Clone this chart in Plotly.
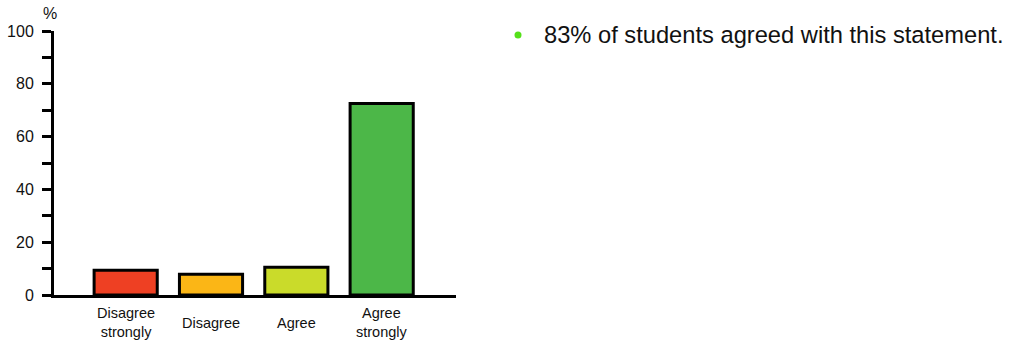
import plotly.graph_objects as go

# Survey responses (% of students)
categories = ["Disagree strongly", "Disagree", "Agree", "Agree strongly"]
tick_labels = ["Disagree<br>strongly", "Disagree", "Agree", "Agree<br>strongly"]
percentages = [9.4, 7.9, 10.5, 72.5]
bar_colors = ["#ee4023", "#fbb616", "#cadb2a", "#4cb748"]
y_tick_values = [0, 20, 40, 60, 80, 100]
summary_text = "83% of students agreed with this statement."

W, H = 1009, 342
ML, MR, MT, MB = 54, 553, 31, 47
PW, PH = W - ML - MR, H - MT - MB
FONT = "Liberation Sans, Arial, sans-serif"


def px_x(x):
    return (x - ML) / PW


def px_y(y):
    return (H - MB - y) / PH


fig = go.Figure()
fig.add_trace(go.Bar(
    x=list(range(len(categories))),
    y=percentages,
    width=0.74,
    marker=dict(color=bar_colors, line=dict(color="black", width=3)),
    hovertext=categories,
    showlegend=False,
))

annotations = []
# Category labels, vertically centred under each bar
for i, label in enumerate(tick_labels):
    annotations.append(dict(
        x=i, xref="x", y=px_y(322.5), yref="paper",
        text=label, showarrow=False, xanchor="center", yanchor="middle",
        font=dict(family=FONT, size=14.5, color="#111"),
    ))

# Axis unit
annotations.append(dict(
    x=px_x(50), xref="paper", y=px_y(13), yref="paper",
    text="%", showarrow=False, xanchor="center", yanchor="middle",
    font=dict(family=FONT, size=16, color="#111"),
))

# Summary note
annotations.append(dict(
    x=px_x(542), xref="paper", y=px_y(35), yref="paper",
    text=summary_text, showarrow=False, xanchor="left", yanchor="middle",
    font=dict(family=FONT, size=23.7, color="#111"),
))

fig.add_shape(
    type="circle", xref="paper", yref="paper",
    xsizemode="pixel", ysizemode="pixel",
    xanchor=px_x(518), yanchor=px_y(35),
    x0=-3.5, x1=3.5, y0=-3.5, y1=3.5,
    fillcolor="#55e01a", line=dict(width=0),
)

fig.update_layout(
    width=W, height=H,
    margin=dict(l=ML, r=MR, t=MT, b=MB, pad=0),
    paper_bgcolor="white", plot_bgcolor="white",
    annotations=annotations,
    font=dict(family=FONT, color="#111"),
    bargap=0.26,
)
fig.update_xaxes(
    range=[-0.84, 3.871], automargin=False,
    showline=True, linecolor="black", linewidth=3,
    showticklabels=False, ticks="", showgrid=False, zeroline=False,
)
fig.update_yaxes(
    range=[0, 100], automargin=False,
    tickvals=y_tick_values,
    ticks="outside", ticklen=9, tickwidth=3, tickcolor="black",
    minor=dict(dtick=10, ticks="outside", ticklen=9, tickwidth=3,
               tickcolor="black", showgrid=False),
    showline=True, linecolor="black", linewidth=3,
    showgrid=False, zeroline=False,
    tickfont=dict(family=FONT, size=16, color="#111"),
    ticklabelstandoff=5,
)

fig.write_html("out.html", config={"displayModeBar": False})
